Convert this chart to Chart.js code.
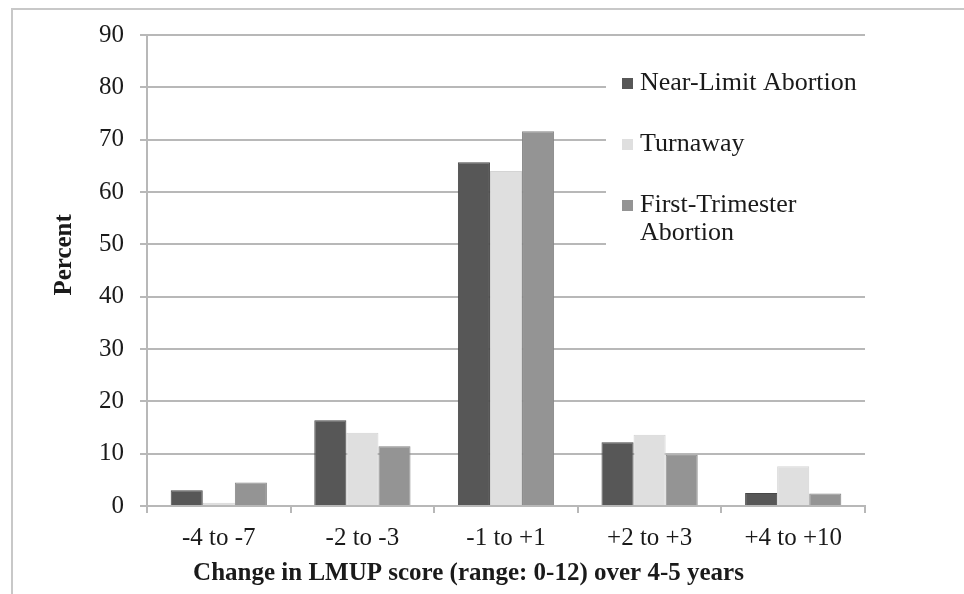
<!DOCTYPE html>
<html>
<head>
<meta charset="utf-8">
<script src="https://cdn.jsdelivr.net/npm/chart.js@4/dist/chart.umd.min.js"></script>
<style>
  html, body { margin: 0; padding: 0; background: #fff; }
  #wrap { width: 964px; height: 594px; }
</style>
</head>
<body>
<div id="wrap"><canvas id="myChart" width="964" height="594"></canvas></div>
<script>
// data
var categories = ['-4 to -7', '-2 to -3', '-1 to +1', '+2 to +3', '+4 to +10'];
var seriesNames = ['Near-Limit Abortion', 'Turnaway', 'First-Trimester Abortion'];
var nearLimit = [3.0, 16.4, 65.7, 12.2, 2.5];
var turnaway = [0.6, 14.0, 64.0, 13.6, 7.6];
var firstTrimester = [4.5, 11.4, 71.6, 9.8, 2.4];
var yMin = 0, yMax = 90, yStep = 10;

var FONT = '"Liberation Serif", "Times New Roman", serif';
var textColor = '#1a1a1a';
var gridColor = '#b8b8b8';

//white page + the grey frame line on the left and top
var framePlugin = {
  id: 'frame',
  beforeDraw: function(chart){
    var ctx = chart.ctx;
    ctx.save();
    ctx.fillStyle = '#fff';
    ctx.fillRect(0, 0, chart.width, chart.height);
    ctx.strokeStyle = '#c8c8c8';
    ctx.lineWidth = 2;
    ctx.beginPath();
    ctx.moveTo(12, chart.height);
    ctx.lineTo(12, 9);
    ctx.lineTo(chart.width, 9);
    ctx.stroke();
    ctx.restore();
  }
};

function wrapText(ctx, text, maxWidth){
  var words = text.split(' ');
  var lines = [];
  var line = '';
  for(var i = 0; i < words.length; i++){
    var test = line ? line + ' ' + words[i] : words[i];
    if(line && ctx.measureText(test).width > maxWidth){
      lines.push(line);
      line = words[i];
    } else {
      line = test;
    }
  }
  if(line) lines.push(line);
  return lines;
}

//legend sits inside the plot, on a white box over the gridlines
var legendPlugin = {
  id: 'sideLegend',
  afterDatasetsDraw: function(chart){
    var ctx = chart.ctx;
    ctx.save();
    ctx.fillStyle = '#fff';
    ctx.fillRect(606, 50, 262, 212);
    ctx.font = '26px ' + FONT;
    ctx.textBaseline = 'middle';
    ctx.textAlign = 'left';
    var y = 83;
    chart.data.datasets.forEach(function(ds){
      var lines = wrapText(ctx, ds.label, 230);
      ctx.fillStyle = ds.backgroundColor;
      ctx.fillRect(622, y - 5, 11, 11);
      ctx.fillStyle = textColor;
      lines.forEach(function(line, i){
        ctx.fillText(line, 640, y + i * 28);
      });
      y += 61;
    });
    ctx.restore();
  }
};

var chart = new Chart(document.getElementById('myChart'), {
  type: 'bar',
  data: {
    labels: categories,
    datasets: [{
      label: seriesNames[0],
      data: nearLimit,
      backgroundColor: '#575757',
      borderColor: '#474747',
      borderWidth: 1
    }, {
      label: seriesNames[1],
      data: turnaway,
      backgroundColor: '#dfdfdf',
      borderColor: '#d4d4d4',
      borderWidth: 1
    }, {
      label: seriesNames[2],
      data: firstTrimester,
      backgroundColor: '#949494',
      borderColor: '#858585',
      borderWidth: 1
    }]
  },
  options: {
    responsive: false,
    animation: false,
    layout: {
      padding: { left: 50, right: 99, top: 35, bottom: 0 }
    },
    categoryPercentage: 0.67,
    barPercentage: 1.0,
    plugins: {
      legend: { display: false },
      tooltip: { enabled: false }
    },
    scales: {
      x: {
        grid: {
          offset: true,
          drawOnChartArea: false,
          tickLength: 7,
          color: gridColor,
          lineWidth: 2
        },
        border: { color: gridColor, width: 2 },
        ticks: {
          color: textColor,
          font: { family: FONT, size: 25 },
          padding: 10,
          maxRotation: 0
        },
        title: {
          display: true,
          text: 'Change in LMUP score (range: 0-12) over 4-5 years' + '            ',
          color: textColor,
          font: { family: FONT, size: 25, weight: 'bold' },
          padding: { top: 0, bottom: 5 }
        },
        afterFit: function(scale){ scale.height = 88; }
      },
      y: {
        min: yMin,
        max: yMax,
        ticks: {
          stepSize: yStep,
          color: textColor,
          font: { family: FONT, size: 25 },
          padding: 16
        },
        grid: {
          color: gridColor,
          lineWidth: 2,
          tickLength: 7
        },
        border: { color: gridColor, width: 2 },
        title: {
          display: true,
          text: '     Percent',
          color: textColor,
          font: { family: FONT, size: 25, weight: 'bold' },
          padding: 0
        },
        afterFit: function(scale){ scale.width = 97; }
      }
    }
  },
  plugins: [framePlugin, legendPlugin]
});
</script>
</body>
</html>
